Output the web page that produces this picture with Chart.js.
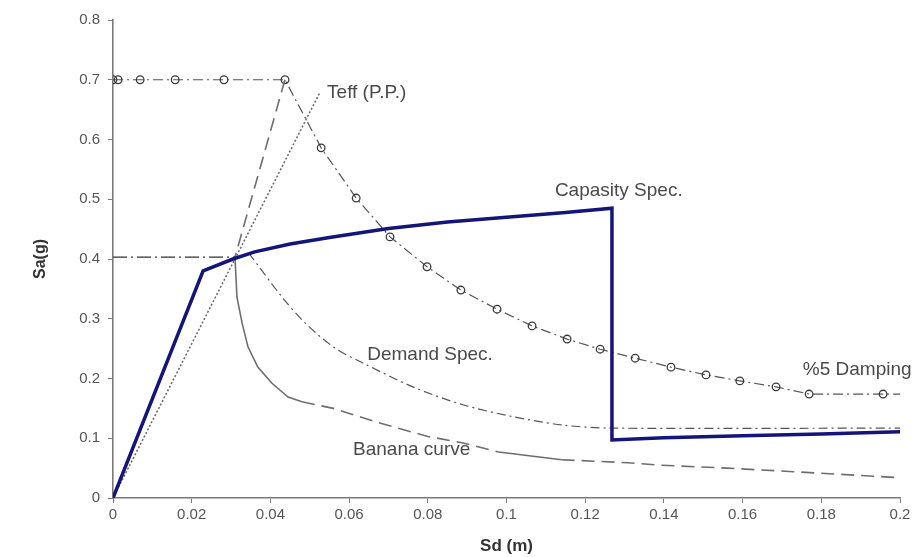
<!DOCTYPE html>
<html>
<head>
<meta charset="utf-8">
<script src="https://cdn.jsdelivr.net/npm/chart.js@4/dist/chart.umd.min.js"></script>
<style>
  html, body { margin: 0; padding: 0; background: #fff; }
  #wrap { width: 922px; height: 557px; position: relative; }
</style>
</head>
<body>
<div id="wrap"><canvas id="c" width="922" height="557"></canvas></div>
<script>
// Spectral displacement Sd (m) vs spectral acceleration Sa (g)
const capacityX = [0, 0.0229, 0.0305, 0.036, 0.045, 0.055, 0.070, 0.085, 0.100, 0.115, 0.1268, 0.1268, 0.140, 0.160, 0.180, 0.200];
const capacityY = [0, 0.380, 0.400, 0.412, 0.425, 0.436, 0.451, 0.462, 0.470, 0.478, 0.485, 0.097, 0.101, 0.104, 0.107, 0.111];

const dampingX = [0, 0.0013, 0.0069, 0.0158, 0.0282, 0.0437, 0.0529, 0.0618, 0.0704, 0.0798, 0.0884, 0.0976, 0.1065, 0.1154, 0.1238, 0.1327, 0.1418, 0.1507, 0.1593, 0.1685, 0.1769, 0.1957, 0.2];
const dampingY = [0.7, 0.7, 0.7, 0.7, 0.7, 0.7, 0.586, 0.502, 0.437, 0.387, 0.348, 0.316, 0.288, 0.266, 0.249, 0.234, 0.219, 0.206, 0.196, 0.186, 0.174, 0.174, 0.174];

const demandX = [0.0345, 0.043, 0.0488, 0.0564, 0.0635, 0.0762, 0.0889, 0.1017, 0.1144, 0.1263, 0.2];
const demandY = [0.410, 0.336, 0.293, 0.251, 0.226, 0.186, 0.156, 0.136, 0.122, 0.117, 0.117];

const bananaX = [0.0437, 0.031, 0.0315, 0.0328, 0.0343, 0.0368, 0.0404, 0.0445, 0.048, 0.056, 0.068, 0.080, 0.089, 0.098, 0.114, 0.131, 0.139, 0.156, 0.173, 0.2];
const bananaY = [0.7, 0.403, 0.336, 0.293, 0.253, 0.219, 0.192, 0.169, 0.161, 0.150, 0.125, 0.103, 0.092, 0.077, 0.064, 0.059, 0.055, 0.050, 0.044, 0.034];

const teffX = [0, 0.0526];
const teffY = [0, 0.679];

const ppLevelX = [0, 0.031];
const ppLevelY = [0.403, 0.403];

const xTicks = [0, 0.02, 0.04, 0.06, 0.08, 0.1, 0.12, 0.14, 0.16, 0.18, 0.2];
const yTicks = [0, 0.1, 0.2, 0.3, 0.4, 0.5, 0.6, 0.7, 0.8];

const pts = (xs, ys) => xs.map((x, i) => ({ x: x, y: ys[i] }));

// Curve captions, anchored in data coordinates
const captions = [
  { text: 'Capasity Spec.', x: 0.1123, y: 0.515 },
  { text: 'Teff (P.P.)',    x: 0.0544, y: 0.679 },
  { text: 'Demand Spec.',   x: 0.0646, y: 0.239 },
  { text: 'Banana curve',   x: 0.0610, y: 0.080 },
  { text: '%5 Damping',     x: 0.1753, y: 0.214 }
];

const captionPlugin = {
  id: 'captions',
  afterDatasetsDraw(chart) {
    const { ctx, scales } = chart;
    ctx.save();
    ctx.font = '19px "Liberation Sans", Arial, sans-serif';
    ctx.fillStyle = '#4a4a4a';
    ctx.textAlign = 'left';
    ctx.textBaseline = 'middle';
    captions.forEach(c => {
      ctx.fillText(c.text, scales.x.getPixelForValue(c.x), scales.y.getPixelForValue(c.y));
    });
    ctx.restore();
  }
};

const lastDamp = dampingX.length - 1;

new Chart(document.getElementById('c'), {
  type: 'line',
  data: {
    datasets: [
      {
        label: 'Capasity Spec.',
        data: pts(capacityX, capacityY),
        borderColor: '#14147a',
        borderWidth: 3.5,
        pointRadius: 0,
        tension: 0
      },
      {
        label: 'Teff (P.P.)',
        data: pts(teffX, teffY),
        borderColor: '#666',
        borderWidth: 1.5,
        borderDash: [2, 2],
        pointRadius: 0
      },
      {
        label: 'P.P. level',
        data: pts(ppLevelX, ppLevelY),
        borderColor: '#333',
        borderWidth: 1.2,
        borderDash: [14, 4, 2, 4],
        pointRadius: 0
      },
      {
        label: 'Banana curve',
        data: pts(bananaX, bananaY),
        borderColor: '#6e6e6e',
        borderWidth: 1.6,
        pointRadius: 0,
        tension: 0,
        segment: {
          borderDash: ctx => {
            const i = ctx.p0DataIndex;
            if (i >= 1 && i < 8) return [];
            if (i === 13) return [];
            return [13, 7];
          }
        }
      },
      {
        label: 'Demand Spec.',
        data: pts(demandX, demandY),
        borderColor: '#555',
        borderWidth: 1.2,
        borderDash: [9, 4, 2, 4],
        pointRadius: 0,
        tension: 0.3
      },
      {
        label: '%5 Damping',
        data: pts(dampingX, dampingY),
        borderColor: '#555',
        borderWidth: 1.2,
        borderDash: [10, 4, 2, 4],
        pointRadius: ctx => (ctx.dataIndex === lastDamp ? 0 : 3.8),
        pointBorderColor: '#3a3a3a',
        pointBorderWidth: 1.3,
        pointBackgroundColor: 'rgba(255,255,255,0)',
        pointStyle: 'circle',
        tension: 0
      }
    ]
  },
  options: {
    responsive: false,
    animation: false,
    events: [],
    layout: { padding: { top: 20, right: 22, left: 0, bottom: 0 } },
    plugins: {
      legend: { display: false },
      tooltip: { enabled: false }
    },
    scales: {
      x: {
        type: 'linear',
        min: 0,
        max: 0.2,
        afterBuildTicks: s => { s.ticks = xTicks.map(v => ({ value: v })); },
        afterFit: s => { s.height = 59; },
        border: { display: true, color: '#7a7a7a', width: 1.6 },
        grid: { display: true, drawOnChartArea: false, drawTicks: true, tickLength: 5, color: '#7a7a7a', lineWidth: 1 },
        ticks: {
          color: '#555',
          font: { family: '"Liberation Sans", Arial, sans-serif', size: 15 },
          padding: 3,
          maxRotation: 0,
          autoSkip: false,
          callback: v => String(Number(v.toFixed(2)))
        },
        title: {
          display: true,
          text: 'Sd (m)',
          color: '#333',
          font: { family: '"Liberation Sans Narrow", "Liberation Sans", Arial, sans-serif', size: 17, weight: 'bold' },
          padding: { top: 2, bottom: 0 }
        }
      },
      y: {
        type: 'linear',
        min: 0,
        max: 0.8,
        afterBuildTicks: s => { s.ticks = yTicks.map(v => ({ value: v })); },
        afterFit: s => { s.width = 113; },
        border: { display: true, color: '#7a7a7a', width: 1.6 },
        grid: { display: true, drawOnChartArea: false, drawTicks: true, tickLength: 5, color: '#7a7a7a', lineWidth: 1 },
        ticks: {
          color: '#555',
          font: { family: '"Liberation Sans", Arial, sans-serif', size: 15 },
          padding: 8,
          autoSkip: false,
          callback: v => String(Number(v.toFixed(1)))
        },
        title: {
          display: true,
          text: 'Sa(g)',
          color: '#333',
          font: { family: '"Liberation Sans Narrow", "Liberation Sans", Arial, sans-serif', size: 16, weight: 'bold' },
          padding: { top: 31, bottom: 0 }
        }
      }
    }
  },
  plugins: [captionPlugin]
});
</script>
</body>
</html>
